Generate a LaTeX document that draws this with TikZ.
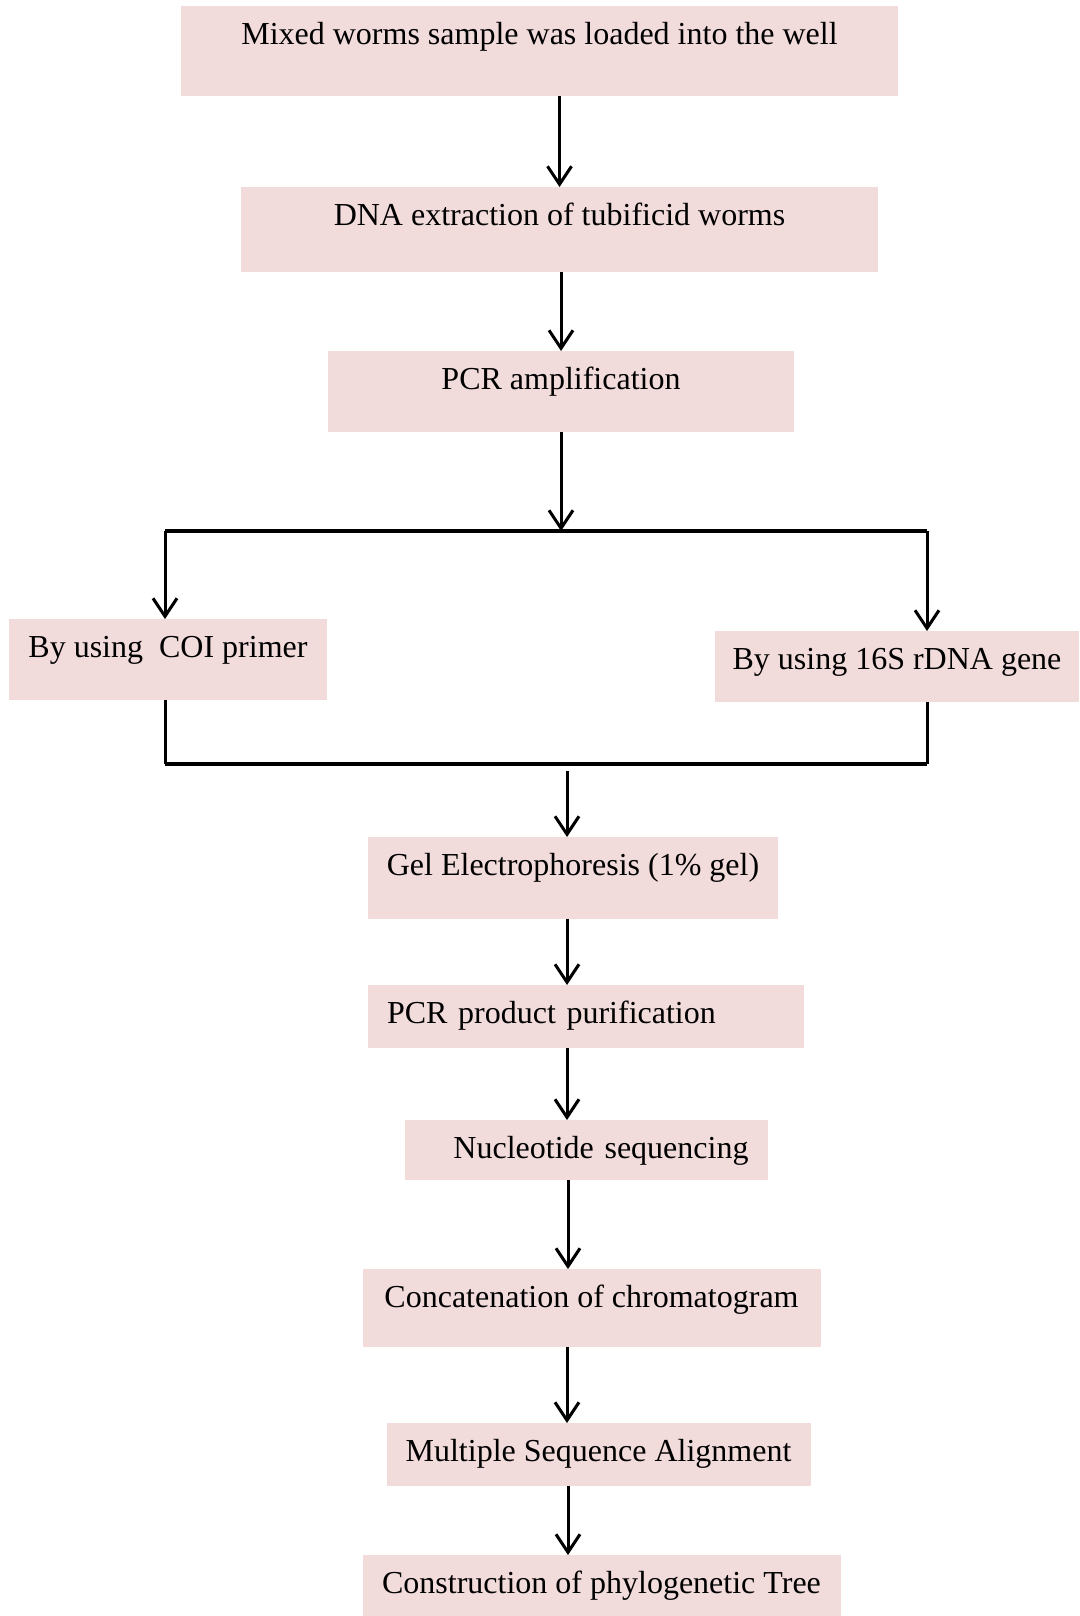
\documentclass[tikz,border=0pt]{standalone}
\usepackage{fontspec}
\setmainfont{Liberation Serif}
\usepackage{tikz}
\usetikzlibrary{arrows.meta,positioning}
\definecolor{boxpink}{HTML}{F2DBDB}

\tikzset{
  stepbox/.style={fill=boxpink, inner sep=0pt, outer sep=0pt, text height=19.25pt,
    font=\fontsize{16}{19}\selectfont},
  flow/.style={->, line width=1.5pt},
  bar/.style={line width=2pt}
}

\begin{document}
\begin{tikzpicture}[x=1pt,y=1pt,>={Straight Barb[length=9pt,width=12pt]}]
  \useasboundingbox (0,0) rectangle (540,-808);
  \node[stepbox, anchor=north, minimum width=358.5pt, text depth=25.75pt] (load) at (269.75,-3) {Mixed worms sample was loaded into the well};
  \node[stepbox, minimum width=318.5pt, text depth=23.25pt] (extract) [below=45.5pt of load, xshift=10pt] {DNA extraction of tubificid worms};
  \node[stepbox, minimum width=233pt, text depth=21.25pt] (pcr) [below=39.5pt of extract, xshift=0.75pt] {PCR amplification};
  \node[stepbox, minimum width=159pt, text depth=21.25pt] (coi) [below=93.5pt of pcr, xshift=-196.5pt] {By using\ \ COI primer};
  \node[stepbox, minimum width=182pt, text depth=16.25pt] (rdna) [below=99.5pt of pcr, xshift=168pt] {By using 16S rDNA gene};
  \node[stepbox, minimum width=205pt, text depth=21.75pt] (gel) [below=202.5pt of pcr, xshift=6pt] {Gel Electrophoresis (1\% gel)};
  \node[stepbox, text width=199pt, inner xsep=9.5pt, align=left, text depth=12.25pt] (purif) [below=33pt of gel, xshift=6.5pt] {PCR product purification};
  \node[stepbox, text width=162.5pt, inner xsep=9.5pt, align=right, text depth=10.75pt] (nucl) [below=36pt of purif] {Nucleotide sequencing};
  \node[stepbox, minimum width=229pt, text depth=19.75pt] (concat) [below=44.5pt of nucl, xshift=2.75pt] {Concatenation of chromatogram};
  \node[stepbox, minimum width=212pt, text depth=12.25pt] (multi) [below=38pt of concat, xshift=3.5pt] {Multiple Sequence Alignment};
  \node[stepbox, minimum width=239pt, text depth=11.25pt] (tree) [below=34.5pt of multi, xshift=1.5pt] {Construction of phylogenetic Tree};

  % branch and join
  \coordinate (split) at (280.5,-265.5);
  \coordinate (splitL) at (82.5,-265.5);
  \coordinate (splitR) at (463.5,-265.5);
  \coordinate (joinL) at (82.5,-382);
  \coordinate (joinR) at (463.5,-382);
  \coordinate (merge) at (283.5,-385.5);
  \coordinate (spine) at (284,0);

  \draw[flow] (load.south -| extract) -- (extract.north);
  \draw[flow] (extract.south -| pcr) -- (pcr.north);
  \draw[flow] (pcr.south) -- (split);
  \draw[bar] (splitL) -- (splitR);
  \draw[flow] (splitL) -- (coi.north -| splitL);
  \draw[flow] (splitR) -- (rdna.north -| splitR);
  \draw[line width=1.5pt] (coi.south -| joinL) -- (joinL);
  \draw[line width=1.5pt] (rdna.south -| joinR) -- (joinR);
  \draw[bar] (joinL) -- (joinR);
  \draw[flow] (merge) -- (gel.north -| merge);
  \draw[flow] (gel.south -| merge) -- (purif.north -| merge);
  \draw[flow] (purif.south -| merge) -- (nucl.north -| merge);
  \draw[flow] (nucl.south -| spine) -- (concat.north -| spine);
  \draw[flow] (concat.south -| merge) -- (multi.north -| merge);
  \draw[flow] (multi.south -| spine) -- (tree.north -| spine);
\end{tikzpicture}
\end{document}
